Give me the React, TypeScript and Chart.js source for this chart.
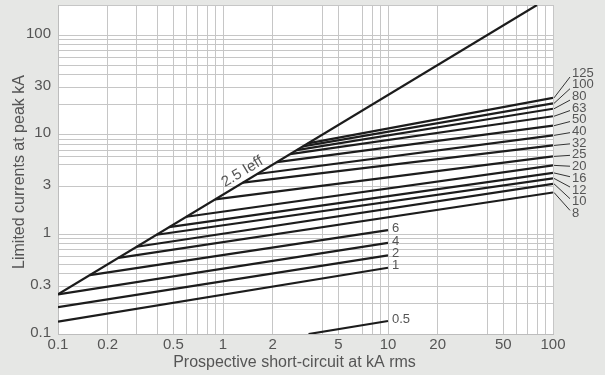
import React, { useEffect, useRef } from 'react';
import { Chart, registerables } from 'chart.js';

Chart.register(...registerables);

const FONT = "'Liberation Sans', Arial, Helvetica, sans-serif";
const TEXT = '#555555';
const LINE = '#1c1c1c';

// Grid lines (log axes) and labelled ticks
const xGridValues = [0.1, 0.2, 0.3, 0.4, 0.5, 0.6, 0.7, 0.8, 0.9, 1, 2, 4, 5, 7, 8, 9, 10, 20, 40, 50, 60, 70, 80, 90, 100];
const yGridValues = [0.1, 0.2, 0.3, 0.4, 0.5, 0.6, 0.7, 0.8, 0.9, 1, 3, 5, 6, 7, 8, 9, 10, 20, 30, 40, 50, 60, 70, 80, 90, 100, 200];
const xTickLabels = [0.1, 0.2, 0.5, 1, 2, 5, 10, 20, 50, 100];
const yTickLabels = [0.1, 0.3, 1, 3, 10, 30, 100];

const xTitle = 'Prospective short-circuit at kA rms';
const yTitle = 'Limited currents at peak kA';

// 2.5 Ieff line
const peakLabel = '2.5 Ieff';
const peakX = [0.1, 80];
const peakY = [0.25, 200];

// Ratings with curves running to 100 kA
const upperRatings = ['125', '100', '80', '63', '50', '40', '32', '25', '20', '16', '12', '10', '8'];
const upperStartX = [3.27, 3.05, 2.8, 2.55, 2.12, 1.61, 1.32, 0.895, 0.6, 0.47, 0.396, 0.3, 0.232];
const upperStartY = [8.18, 7.63, 7.0, 6.38, 5.3, 4.03, 3.3, 2.24, 1.5, 1.18, 0.99, 0.75, 0.58];
const upperEndX = [100, 100, 100, 100, 100, 100, 100, 100, 100, 100, 100, 100, 100];
const upperEndY = [23.4, 20.6, 18.2, 15.3, 12.3, 9.84, 7.8, 6.05, 4.92, 4.13, 3.64, 3.21, 2.63];

// Ratings with curves running to 10 kA
const lowerRatings = ['6', '4', '2', '1', '0.5'];
const lowerStartX = [0.156, 0.1, 0.1, 0.1, 3.3];
const lowerStartY = [0.39, 0.25, 0.186, 0.133, 0.1];
const lowerEndX = [10, 10, 10, 10, 10];
const lowerEndY = [1.1, 0.82, 0.614, 0.462, 0.135];

const has = (arr: number[], v: number) => arr.some((a) => Math.abs(a - v) / a < 1e-6);

const bgPlugin = {
  id: 'bgPlugin',
  beforeDraw(chart: any) {
    const { ctx, chartArea: a, width, height } = chart;
    ctx.save();
    ctx.fillStyle = '#e6e7e5';
    ctx.fillRect(0, 0, width, height);
    ctx.fillStyle = '#ffffff';
    ctx.fillRect(a.left, a.top, a.right - a.left, a.bottom - a.top);
    ctx.restore();
  },
};

const textPlugin = {
  id: 'textPlugin',
  afterDatasetsDraw(chart: any) {
    const { ctx } = chart;
    const xs = chart.scales.x;
    const ys = chart.scales.y;
    ctx.save();
    ctx.fillStyle = TEXT;
    ctx.strokeStyle = '#333333';
    ctx.lineWidth = 1;

    // right-hand labels with leader lines
    ctx.font = `13px ${FONT}`;
    ctx.textAlign = 'left';
    ctx.textBaseline = 'middle';
    upperRatings.forEach((r, i) => {
      const xe = xs.getPixelForValue(upperEndX[i]);
      const ye = ys.getPixelForValue(upperEndY[i]);
      const ly = 73 + i * 11.7;
      const dy = Math.max(-3, Math.min(4, (ye - ly) * 0.3));
      ctx.beginPath();
      ctx.moveTo(xe + 1, ye);
      ctx.lineTo(xe + 17, ly + dy);
      ctx.stroke();
      ctx.fillText(r, xe + 19, ly);
    });

    // labels at the end of the short curves
    lowerRatings.forEach((r, i) => {
      const xe = xs.getPixelForValue(lowerEndX[i]);
      const ye = ys.getPixelForValue(lowerEndY[i]);
      ctx.fillText(r, xe + 4, ye - 2);
    });

    // 2.5 Ieff label along the line
    const x0 = xs.getPixelForValue(peakX[0]);
    const y0 = ys.getPixelForValue(peakY[0]);
    const x1 = xs.getPixelForValue(peakX[1]);
    const y1 = ys.getPixelForValue(peakY[1]);
    const ang = Math.atan2(y1 - y0, x1 - x0);
    const t = 0.395;
    ctx.translate(x0 + (x1 - x0) * t, y0 + (y1 - y0) * t);
    ctx.rotate(ang);
    ctx.font = `15px ${FONT}`;
    ctx.textAlign = 'center';
    ctx.textBaseline = 'bottom';
    ctx.fillText(peakLabel, 0, -2);
    ctx.restore();

    // axis titles
    ctx.save();
    ctx.fillStyle = TEXT;
    ctx.font = `16px ${FONT}`;
    ctx.textAlign = 'center';
    ctx.textBaseline = 'middle';
    ctx.fillText(xTitle, 294.5, 363);
    ctx.translate(20, 172);
    ctx.rotate(-Math.PI / 2);
    ctx.fillText(yTitle, 0, 0);
    ctx.restore();
  },
};

export default function App() {
  const ref = useRef<HTMLCanvasElement | null>(null);

  useEffect(() => {
    if (!ref.current) return;
    const datasets: any[] = [];
    const mk = (data: any[]) => ({
      data,
      borderColor: LINE,
      borderWidth: 2.2,
      pointRadius: 0,
      fill: false,
      tension: 0,
    });
    datasets.push(mk([{ x: peakX[0], y: peakY[0] }, { x: peakX[1], y: peakY[1] }]));
    upperRatings.forEach((_, i) => {
      datasets.push(mk([{ x: upperStartX[i], y: upperStartY[i] }, { x: upperEndX[i], y: upperEndY[i] }]));
    });
    lowerRatings.forEach((_, i) => {
      datasets.push(mk([{ x: lowerStartX[i], y: lowerStartY[i] }, { x: lowerEndX[i], y: lowerEndY[i] }]));
    });

    const chart = new Chart(ref.current, {
      type: 'line',
      data: { datasets },
      plugins: [bgPlugin, textPlugin],
      options: {
        responsive: false,
        animation: false,
        devicePixelRatio: 1,
        layout: { padding: { left: 0, top: 5, right: 52, bottom: 0 } },
        plugins: { legend: { display: false }, tooltip: { enabled: false } },
        scales: {
          x: {
            type: 'logarithmic',
            min: 0.1,
            max: 100,
            afterBuildTicks: (scale: any) => {
              scale.ticks = xGridValues.map((v) => ({ value: v }));
            },
            afterFit: (scale: any) => {
              scale.height = 41;
              scale.paddingLeft = 0;
              scale.paddingRight = 0;
              scale.paddingTop = 0;
              scale.paddingBottom = 0;
            },
            grid: { color: '#c6c6c6', lineWidth: 1, drawTicks: false },
            border: { display: true, color: '#bdbdbd' },
            ticks: {
              autoSkip: false,
              maxRotation: 0,
              padding: 2,
              color: TEXT,
              font: { size: 15, family: FONT },
              callback: (v: any) => (has(xTickLabels, Number(v)) ? String(Number(v)) : ''),
            },
          },
          y: {
            type: 'logarithmic',
            min: 0.1,
            max: 200,
            afterBuildTicks: (scale: any) => {
              scale.ticks = yGridValues.map((v) => ({ value: v }));
            },
            afterFit: (scale: any) => {
              scale.width = 58;
              scale.paddingLeft = 0;
              scale.paddingRight = 0;
              scale.paddingTop = 0;
              scale.paddingBottom = 0;
            },
            grid: { color: '#c6c6c6', lineWidth: 1, drawTicks: false },
            border: { display: true, color: '#bdbdbd' },
            ticks: {
              autoSkip: false,
              padding: 7,
              labelOffset: -1.5,
              color: TEXT,
              font: { size: 15, family: FONT },
              callback: (v: any) => (has(yTickLabels, Number(v)) ? String(Number(v)) : ''),
            },
          },
        },
      },
    });
    return () => chart.destroy();
  }, []);

  return (
    <div style={{ position: 'fixed', left: 0, top: 0, width: 605, height: 375, background: '#e6e7e5' }}>
      <canvas ref={ref} width={605} height={375} style={{ display: 'block', width: 605, height: 375 }} />
    </div>
  );
}
